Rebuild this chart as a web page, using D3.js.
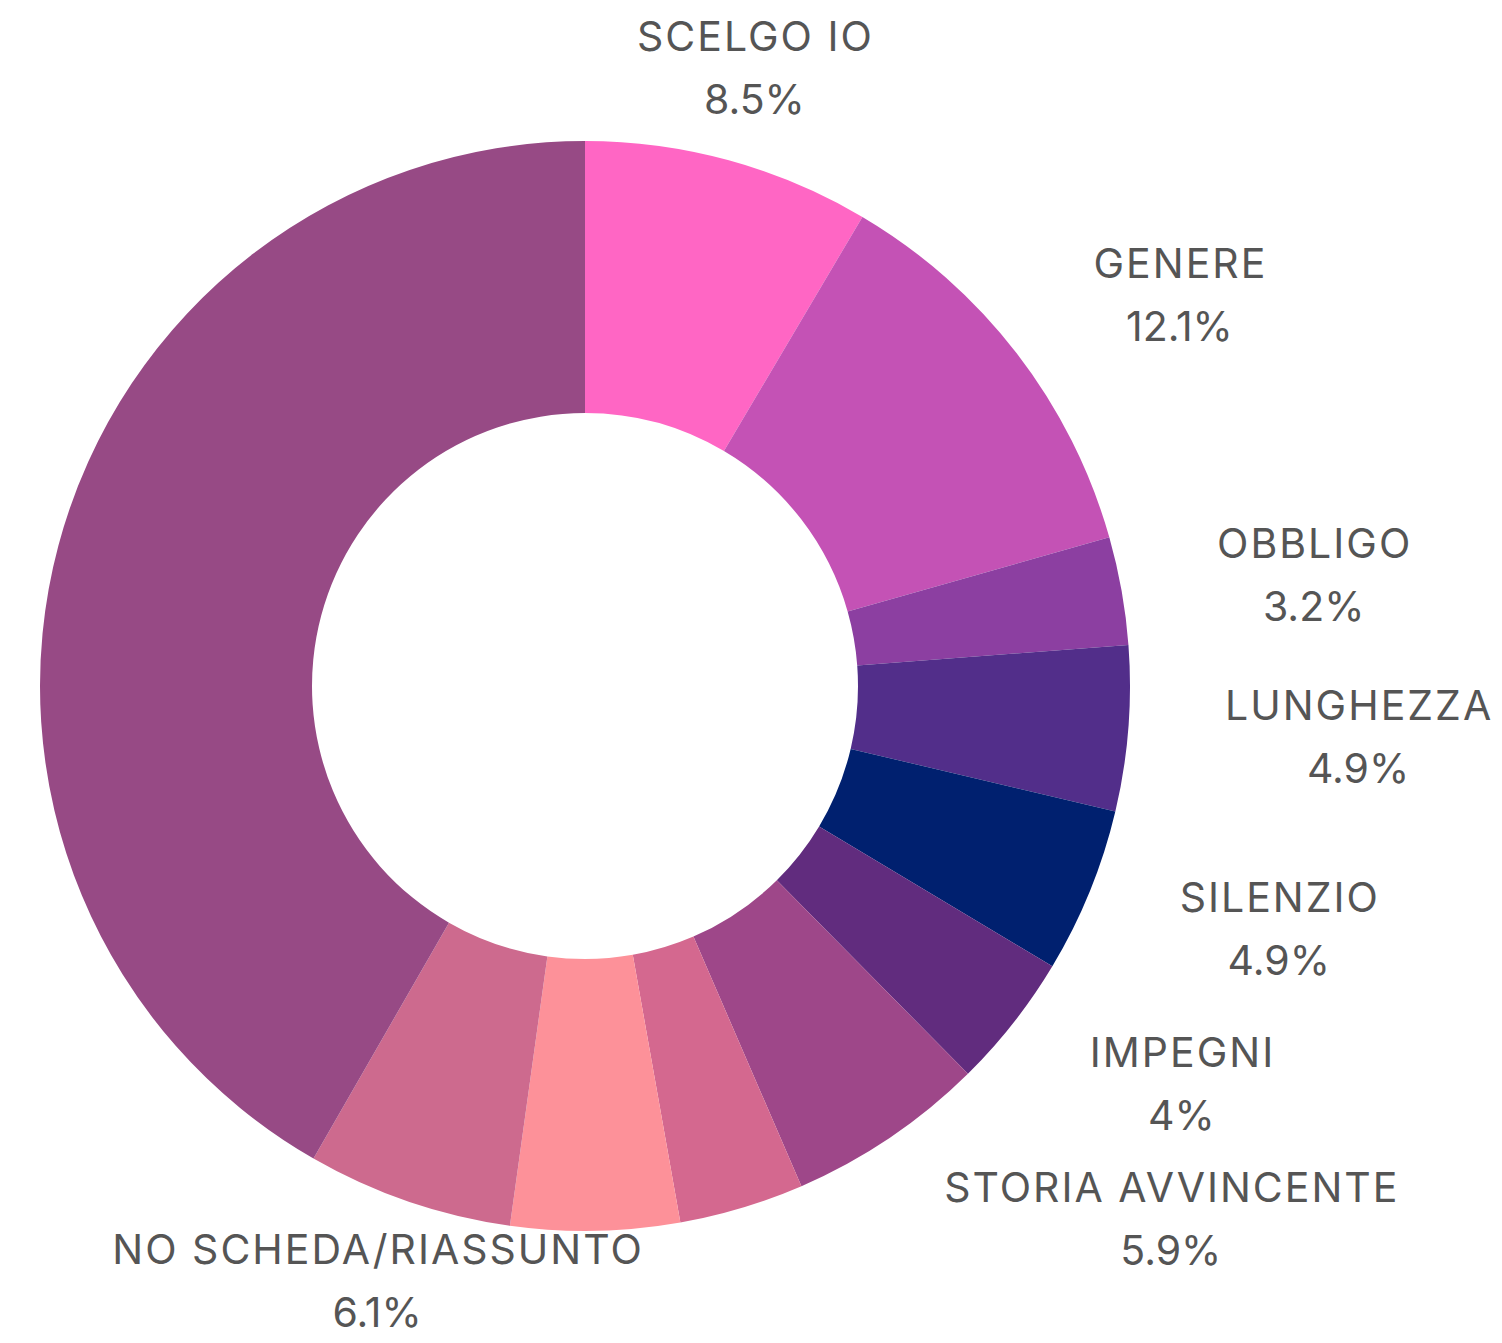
<!DOCTYPE html>
<html>
<head>
<meta charset="utf-8">
<script src="https://cdn.jsdelivr.net/npm/d3@7/dist/d3.min.js"></script>
<style>
  html, body { margin: 0; padding: 0; background: #ffffff; }
  svg { display: block; }
</style>
</head>
<body>
<svg id="chart" width="1502" height="1343"></svg>
<script>
// Data
const categories = ["SCELGO IO", "GENERE", "OBBLIGO", "LUNGHEZZA", "SILENZIO", "IMPEGNI",
  "STORIA AVVINCENTE", "(non etichettato 1)", "(non etichettato 2)", "NO SCHEDA/RIASSUNTO", "(non etichettato 3)"];
const values = [8.5, 12.1, 3.2, 4.9, 4.9, 4, 5.9, 3.7, 5.0, 6.1, 41.7];
const valueLabels = ["8.5%", "12.1%", "3.2%", "4.9%", "4.9%", "4%", "5.9%", null, null, "6.1%", null];
const showLabel = [true, true, true, true, true, true, true, false, false, true, false];
const colors = ["#FF66C4", "#C452B5", "#8C3FA1", "#522E8A", "#00206F", "#612C7E",
  "#9E4789", "#D4688F", "#FD9199", "#CD6A8E", "#974A85"];

const W = 1502, H = 1343;
const cx = 585, cy = 686;
const outerR = 545, innerR = 273;
const labelR = 642;

const svg = d3.select("#chart");
const g = svg.append("g").attr("transform", `translate(${cx},${cy})`);

const data = categories.map((c, i) => ({ name: c, value: values[i], label: valueLabels[i], show: showLabel[i], color: colors[i] }));

const pie = d3.pie().value(d => d.value).sort(null);
const arcs = pie(data);
const arc = d3.arc().innerRadius(innerR).outerRadius(outerR);

g.selectAll("path.slice")
  .data(arcs)
  .join("path")
  .attr("class", "slice")
  .attr("d", arc)
  .attr("fill", d => d.data.color);

const fontSize = 41;
const ls = 2;
const labels = g.selectAll("g.lbl")
  .data(arcs.filter(d => d.data.show))
  .join("g")
  .attr("class", "lbl");

labels.each(function(d) {
  const mid = (d.startAngle + d.endAngle) / 2;
  const ux = Math.sin(mid), uy = -Math.cos(mid);
  const ax = labelR * ux, ay = labelR * uy;
  const sel = d3.select(this);
  const t1 = sel.append("text")
    .attr("y", -31)
    .attr("dominant-baseline", "central")
    .attr("font-family", "Inter, 'Open Sans', sans-serif")
    .attr("font-size", fontSize)
    .attr("letter-spacing", ls + "px")
    .attr("fill", "#555555")
    .text(d.data.name);
  const t2 = sel.append("text")
    .attr("y", 32)
    .attr("dominant-baseline", "central")
    .attr("font-family", "Inter, 'Open Sans', sans-serif")
    .attr("font-size", fontSize)
    .attr("fill", "#555555")
    .text(d.data.label);
  const w1 = t1.node().getComputedTextLength() - ls;
  const w2 = t2.node().getComputedTextLength();
  const w = Math.max(w1, w2);
  let ox = 0;
  if (Math.abs(ux) > 0.5) ox = Math.sign(ux) * w / 2;
  t1.attr("x", -w1 / 2);
  t2.attr("x", -w2 / 2);
  // keep the block inside the picture
  let ty = ay;
  const bottom = cy + ay + 32 + fontSize * 0.75;
  if (bottom > H) ty -= (bottom - H);
  sel.attr("transform", `translate(${ax + ox},${ty})`);
});
</script>
</body>
</html>
